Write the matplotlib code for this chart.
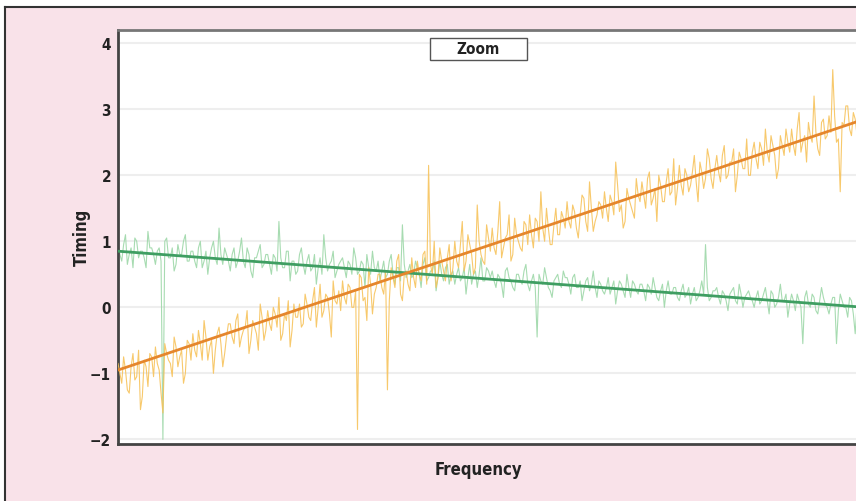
import matplotlib
matplotlib.use("Agg")
import matplotlib.pyplot as plt
from matplotlib.patches import Rectangle
from matplotlib.lines import Line2D
from matplotlib import font_manager

orange_vals = [
    -0.85, -1.15, -0.95, -1.3, -0.7, -1.05, -1.55, -0.8, -1.2, -0.75,
    -0.6, -0.95, -1.6, -0.7, -0.85, -0.45, -0.9, -0.65, -1.0, -0.55,
    -0.4, -0.75, -0.55, -0.2, -0.8, -0.5, -0.65, -0.3, -0.9, -0.45,
    -0.25, -0.55, -0.1, -0.45, -0.3, -0.7, -0.2, -0.4, 0.05, -0.5,
    -0.05, -0.35, -0.1, 0.15, -0.4, -0.2, -0.6, 0.05, -0.15, -0.3,
    0.2, -0.15, 0.1, -0.3, 0.35, -0.05, 0.15, -0.45, 0.1, 0.25,
    0.4, 0.05, 0.3, 0.0, -1.85, 0.45, 0.15, 0.6, -0.1, 0.3,
    0.5, 0.2, -1.25, 0.6, 0.3, 0.8, 0.1, 0.55, 0.25, 0.45,
    0.7, 0.4, 0.85, 2.15, 0.5, 0.3, 0.9, 0.55, 0.75, 0.4,
    1.0, 0.6, 1.3, 0.7, 0.95, 0.5, 1.55, 0.8, 0.65, 1.05,
    1.2, 0.8, 1.6, 0.9, 1.1, 0.7, 1.35, 1.0, 0.85, 1.25,
    1.4, 0.9, 1.3, 1.75, 1.0, 1.2, 0.95, 1.5, 1.1, 1.35,
    1.6, 1.2, 1.45, 1.05, 1.7, 1.3, 1.9, 1.15, 1.4, 1.55,
    1.75, 1.3, 1.6, 2.2, 1.45, 1.2, 1.8, 1.55, 1.35, 1.7,
    1.9, 1.5, 2.05, 1.65, 1.3, 1.85, 1.6, 2.1, 1.75, 1.55,
    2.15, 1.7, 2.0, 1.85, 2.3, 1.6, 2.05, 1.95, 2.25, 1.8,
    2.3, 1.9, 2.45, 2.0, 2.2, 1.75, 2.35, 2.1, 2.55, 2.0,
    2.5, 2.1, 2.4, 2.7, 2.2, 2.45, 1.95, 2.6, 2.3, 2.5,
    2.7, 2.3, 2.95, 2.5, 2.2, 2.6, 3.2, 2.4, 2.8, 2.55,
    2.9, 3.6, 2.5, 1.75, 2.75, 3.05, 2.6, 2.85, 3.1, 2.8,
]

orange_vals_mid = [
    -1.0, -0.75, -1.25, -0.9, -1.1, -0.65, -1.35, -0.9, -0.7, -1.05,
    -0.85, -1.3, -0.55, -0.8, -1.05, -0.6, -0.75, -1.15, -0.5, -0.8,
    -0.65, -0.35, -0.8, -0.45, -0.6, -1.0, -0.4, -0.55, -0.7, -0.25,
    -0.45, -0.2, -0.6, -0.35, -0.05, -0.5, -0.3, -0.65, -0.15, -0.35,
    -0.25, 0.0, -0.3, -0.5, -0.1, 0.1, -0.35, -0.15, 0.05, -0.25,
    0.05, -0.2, 0.3, 0.0, -0.15, 0.2, -0.1, 0.4, 0.05, -0.05,
    0.15, 0.35, 0.0, 0.25, 0.5, 0.1, -0.2, 0.35, 0.2, 0.5,
    0.3, 0.55, 0.1, 0.45, 0.7, 0.2, 0.5, 0.35, 0.75, 0.3,
    0.5, 0.8, 0.35, 0.65, 1.0, 0.45, 0.7, 0.4, 0.95, 0.6,
    0.7, 0.95, 0.55, 1.1, 0.8, 0.6, 1.0, 0.7, 1.25, 0.85,
    0.9, 1.15, 0.75, 1.05, 1.4, 0.8, 1.1, 0.9, 1.3, 0.95,
    1.1, 1.35, 1.0, 1.2, 1.5, 0.95, 1.25, 1.1, 1.45, 1.2,
    1.3, 1.55, 1.2, 1.4, 1.65, 1.15, 1.5, 1.3, 1.6, 1.35,
    1.5, 1.7, 1.4, 1.85, 1.55, 1.3, 1.65, 1.45, 1.95, 1.6,
    1.7, 1.95, 1.55, 1.8, 2.0, 1.6, 1.9, 1.7, 2.25, 1.8,
    1.85, 2.1, 1.75, 2.05, 1.9, 2.2, 1.8, 2.4, 1.95, 2.1,
    2.05, 2.3, 1.95, 2.2, 2.4, 2.0, 2.25, 2.1, 2.0, 2.35,
    2.25, 2.5, 2.15, 2.35, 2.6, 2.3, 2.1, 2.45, 2.7, 2.35,
    2.45, 2.7, 2.35, 2.6, 2.8, 2.5, 2.65, 2.3, 2.85, 2.6,
    2.65, 2.9, 2.55, 2.8, 3.05, 2.7, 2.95, 2.6, 3.0, 2.85,
]

green_vals = [
    0.95, 0.7, 1.1, 0.8, 0.6, 1.0, 0.85, 0.75, 1.15, 0.9,
    0.65, 0.9, -2.0, 1.05, 0.75, 0.55, 0.95, 0.8, 1.1, 0.7,
    0.85, 0.6, 1.0, 0.7, 0.5, 0.9, 0.75, 1.2, 0.65, 0.8,
    0.55, 0.9, 0.7, 1.05, 0.6, 0.8, 0.45, 0.75, 0.95, 0.65,
    0.8, 0.5, 0.75, 1.3, 0.6, 0.85, 0.4, 0.7, 0.55, 0.9,
    0.5, 0.8, 0.6, 0.35, 0.75, 1.1, 0.55, 0.7, 0.45, 0.65,
    0.75, 0.45, 0.65, 0.9, 0.5, 0.7, 0.3, 0.6, 0.85, 0.55,
    0.4, 0.7, 0.5, 0.8, 0.35, 0.6, 1.25, 0.45, 0.65, 0.5,
    0.6, 0.3, 0.75, 0.45, 0.55, 0.25, 0.7, 0.4, 0.65, 0.5,
    0.35, 0.6, 0.45, 0.2, 0.65, 0.5, 0.3, 0.75, 0.4, 0.55,
    0.55, 0.3, 0.45, 0.15, 0.6, 0.4, 0.25, 0.5, 0.35, 0.65,
    0.25, 0.5, -0.45, 0.4, 0.6, 0.3, 0.15, 0.45, 0.35, 0.55,
    0.45, 0.2, 0.5, 0.3, 0.1, 0.4, 0.25, 0.55, 0.15, 0.35,
    0.2, 0.45, 0.3, 0.05, 0.4, 0.25, 0.5, 0.15, 0.35, 0.2,
    0.35, 0.1, 0.3, 0.45, 0.15, 0.25, 0.0, 0.4, 0.2, 0.3,
    0.1, 0.35, 0.2, 0.05, 0.3, 0.15, 0.4, 0.95, 0.1, 0.25,
    0.3, 0.05, 0.2, -0.05, 0.25, 0.1, 0.35, 0.0, 0.2, 0.15,
    0.0, 0.25, 0.1, 0.3, -0.1, 0.2, 0.05, 0.35, 0.1, -0.15,
    0.2, -0.05, 0.1, -0.55, 0.25, 0.0, 0.15, -0.1, 0.3, 0.05,
    -0.1, 0.15, -0.55, 0.2, 0.0, -0.15, 0.1, -0.4, 0.95, 0.05,
]

green_vals_mid = [
    0.8, 0.95, 0.65, 0.9, 1.05, 0.75, 0.85, 0.6, 0.9, 0.8,
    0.85, 0.7, 1.0, 0.75, 0.9, 0.65, 0.8, 1.0, 0.7, 0.85,
    0.7, 0.9, 0.6, 0.85, 0.75, 1.0, 0.65, 0.8, 0.9, 0.7,
    0.8, 0.6, 0.85, 0.7, 0.9, 0.55, 0.75, 0.85, 0.6, 0.8,
    0.65, 0.8, 0.55, 0.75, 0.6, 0.85, 0.7, 0.5, 0.8, 0.65,
    0.7, 0.55, 0.8, 0.6, 0.5, 0.75, 0.65, 0.85, 0.55, 0.7,
    0.6, 0.7, 0.5, 0.75, 0.55, 0.65, 0.8, 0.5, 0.6, 0.7,
    0.55, 0.45, 0.7, 0.5, 0.6, 0.4, 0.65, 0.55, 0.45, 0.7,
    0.5, 0.65, 0.4, 0.55, 0.7, 0.45, 0.5, 0.6, 0.35, 0.55,
    0.5, 0.4, 0.6, 0.45, 0.35, 0.55, 0.5, 0.4, 0.6, 0.45,
    0.4, 0.5, 0.35, 0.55, 0.45, 0.3, 0.5, 0.4, 0.55, 0.35,
    0.4, 0.3, 0.5, 0.35, 0.45, 0.25, 0.4, 0.5, 0.3, 0.45,
    0.35, 0.45, 0.3, 0.4, 0.25, 0.45, 0.35, 0.3, 0.4, 0.25,
    0.3, 0.2, 0.4, 0.25, 0.35, 0.15, 0.3, 0.4, 0.25, 0.35,
    0.25, 0.35, 0.2, 0.3, 0.1, 0.35, 0.25, 0.2, 0.3, 0.15,
    0.25, 0.15, 0.3, 0.2, 0.1, 0.25, 0.2, 0.3, 0.15, 0.25,
    0.15, 0.25, 0.1, 0.2, 0.3, 0.05, 0.2, 0.15, 0.25, 0.1,
    0.15, 0.05, 0.2, 0.1, 0.25, 0.0, 0.15, 0.1, 0.2, 0.05,
    0.1, 0.2, 0.0, 0.15, 0.05, 0.2, -0.05, 0.1, 0.15, 0.0,
    0.05, 0.15, -0.05, 0.1, 0.0, 0.15, -0.1, 0.05, 0.1, 0.0,
]

fit_x = [0, 199.5]
orange_fit = [-0.95, 2.85]
green_fit = [0.85, 0.0]
y_ticks = [-2, -1, 0, 1, 2, 3, 4]

# pick a condensed face if available
avail = {f.name for f in font_manager.fontManager.ttflist}
FAM = ["Liberation Sans Narrow", "DejaVu Sans"] if "Liberation Sans Narrow" in avail else ["DejaVu Sans"]
STRETCH = "normal" if FAM[0] == "Liberation Sans Narrow" else "condensed"

W, H = 856, 502
fig = plt.figure(figsize=(W / 100, H / 100), dpi=100, facecolor="white")

fig.patches.append(Rectangle((5 / W, -0.1), 1.2, 1 - 8 / H + 0.1, transform=fig.transFigure,
                             facecolor="#f9e2e9", edgecolor="none", zorder=-5))
fig.lines.append(Line2D([5 / W, 5 / W], [0, 1 - 8 / H], transform=fig.transFigure, color="#333333", lw=1.5, zorder=-4))
fig.lines.append(Line2D([5 / W, 1], [1 - 8 / H, 1 - 8 / H], transform=fig.transFigure, color="#333333", lw=1.5, zorder=-4))

ax = fig.add_axes([118 / W, 1 - 445 / H, 1 - 118 / W + 0.01, (445 - 31) / H])
ax.set_zorder(2)
ax.set_facecolor("white")

def interleave(a, b):
    xs, ys = [], []
    for i, (va, vb) in enumerate(zip(a, b)):
        xs += [i, i + 0.5]
        ys += [va, vb]
    return xs, ys

gx, gy = interleave(green_vals, green_vals_mid)
ox, oy = interleave(orange_vals, orange_vals_mid)
ax.plot(gx, gy, color="#9ed8a9", lw=0.8, alpha=0.9, zorder=2)
ax.plot(ox, oy, color="#f7c35c", lw=0.8, alpha=0.9, zorder=3)
ax.plot(fit_x, green_fit, color="#3f9e62", lw=2.0, zorder=4)
ax.plot(fit_x, orange_fit, color="#e5862c", lw=2.0, zorder=5)

ax.set_xlim(0, 199.5)
ax.set_ylim(-2.07, 4.2)
ax.set_yticks(y_ticks)
ax.set_yticklabels([str(v).replace("-", "\u2212") for v in y_ticks], fontweight="bold", fontsize=11,
                   color="#222222", family=FAM, fontstretch=STRETCH)
ax.set_xticks([])
ax.tick_params(axis="y", length=0, pad=5)
ax.grid(axis="y", color="#eeeeee", lw=1.5, zorder=0)
ax.set_axisbelow(True)

for s in ["left", "bottom"]:
    ax.spines[s].set_color("#444444")
    ax.spines[s].set_linewidth(2)
ax.spines["top"].set_color("#777777")
ax.spines["top"].set_linewidth(2)
ax.spines["right"].set_visible(False)

fig.text(82 / W, 1 - 237 / H, "Timing", rotation=90, ha="center", va="center", fontweight="bold",
         fontsize=12, color="#222222", family=FAM, fontstretch=STRETCH)
fig.text(478 / W, 1 - 470 / H, "Frequency", ha="center", va="center", fontweight="bold",
         fontsize=12, color="#222222", family=FAM, fontstretch=STRETCH)

fig.patches.append(Rectangle((430 / W, 1 - 61 / H), 97 / W, 22 / H, transform=fig.transFigure,
                             facecolor="white", edgecolor="#555555", lw=1, zorder=10))
fig.text(478 / W, 1 - 50 / H, "Zoom", ha="center", va="center", fontweight="bold", fontsize=11,
         color="#222222", family=FAM, fontstretch=STRETCH, zorder=11)

fig.savefig("out.png", dpi=100, facecolor=fig.get_facecolor())
